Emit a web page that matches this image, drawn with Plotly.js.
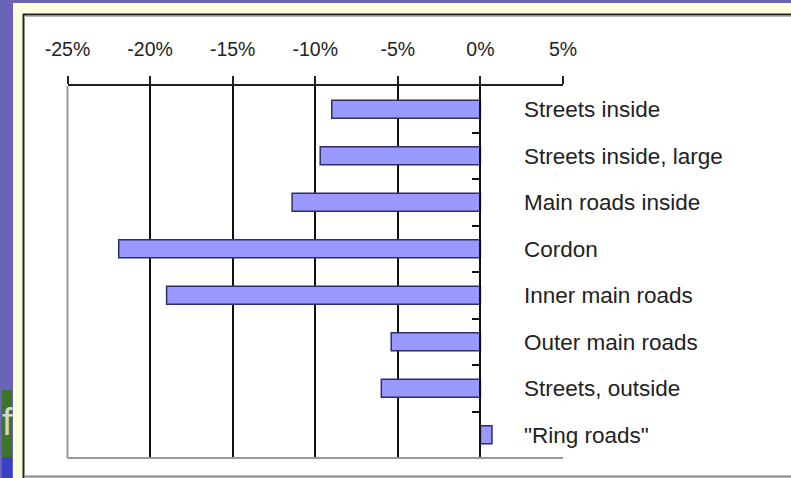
<!DOCTYPE html>
<html>
<head>
<meta charset="utf-8">
<script src="https://cdn.plot.ly/plotly-3.0.1.min.js"></script>
<style>html,body{margin:0;padding:0;background:#fff;}#chart{width:791px;height:478px;}</style>
</head>
<body>
<div id="chart"></div>
<script>
// ---- data ----
var categories = ["Streets inside", "Streets inside, large", "Main roads inside", "Cordon",
                  "Inner main roads", "Outer main roads", "Streets, outside", "\"Ring roads\""];
var changePct = [-9.0, -9.7, -11.4, -21.9, -19.0, -5.4, -6.0, 0.7];
var tickValues = [-25, -20, -15, -10, -5, 0, 5];
var tickLabels = ["-25%", "-20%", "-15%", "-10%", "-5%", "0%", "5%"];

// ---- page geometry helpers (pixels -> paper fractions) ----
var W = 791, H = 478;
function px(x){ return x / W; }
function py(y){ return 1 - y / H; }

var plotLeft = 67.5, plotRight = 563, plotTop = 86, plotBottom = 458;
var xr = [-25, 5];
var zeroPos = px(plotLeft) + (0 - xr[0]) / (xr[1] - xr[0]) * (px(plotRight) - px(plotLeft));

function rect(x0, y0, x1, y1, color){
  return {type:'rect', xref:'paper', yref:'paper', x0:px(x0), x1:px(x1), y0:py(y1), y1:py(y0),
          fillcolor:color, line:{width:0}, layer:'below'};
}
function pline(x0, y0, x1, y1, color, w){
  return {type:'line', xref:'paper', yref:'paper', x0:px(x0), x1:px(x1), y0:py(y0), y1:py(y1),
          line:{color:color, width:w}, layer:'below'};
}

var shapes = [
  rect(0, 0, 13, 478, '#6b63b6'),
  rect(2, 390, 12, 457, '#3c7428'),
  rect(2, 457, 12, 478, '#3a3fc4'),
  rect(0, 0, 791, 3, '#6b63b6'),
  rect(13, 3, 791, 14, '#fffde0'),
  rect(13, 3, 23, 478, '#fffde0'),
  pline(23, 14.5, 791, 14.5, '#222', 2),
  pline(23.5, 14, 23.5, 478, '#222', 2),
  pline(24, 16.5, 791, 16.5, '#bbb', 1),
  pline(24, 476.5, 791, 476.5, '#888', 2),
  // plot-area borders (left and bottom, grey)
  {type:'line', xref:'x domain', yref:'y domain', x0:0, x1:0, y0:0, y1:1,
   line:{color:'#999', width:2}, layer:'above'},
  {type:'line', xref:'x domain', yref:'y domain', x0:0, x1:1, y0:0, y1:0,
   line:{color:'#999', width:2}, layer:'above'}
];

var trace = {
  type:'bar', orientation:'h',
  x: changePct, y: categories,
  marker:{color:'#9999ff', line:{color:'#2e2e66', width:1.5}},
  hoverinfo:'skip'
};

var layout = {
  width: W, height: H,
  margin:{l:0, r:0, t:0, b:0},
  paper_bgcolor:'#ffffff', plot_bgcolor:'rgba(0,0,0,0)',
  showlegend:false,
  bargap:0.61,
  font:{family:'Liberation Sans, Arial, sans-serif', color:'#222'},
  xaxis:{
    domain:[px(plotLeft), px(plotRight)],
    range: xr, side:'top',
    tickmode:'array', tickvals: tickValues, ticktext: tickLabels,
    ticks:'outside', ticklen:8, tickwidth:2, tickcolor:'#222',
    showline:true, linecolor:'#222', linewidth:2,
    showgrid:true, gridcolor:'#111', gridwidth:2,
    zeroline:false,
    ticklabelstandoff:12,
    tickfont:{size:19.5, color:'#222'}
  },
  yaxis:{
    domain:[py(plotBottom), py(plotTop)],
    type:'category', range:[categories.length - 0.5, -0.5],
    anchor:'free', position: zeroPos, side:'right',
    showline:true, linecolor:'#111', linewidth:2,
    ticks:'inside', tickson:'boundaries', ticklen:7, tickwidth:2, tickcolor:'#111',
    showgrid:false, zeroline:false,
    ticklabelstandoff:38,
    tickfont:{size:22.5, color:'#222'}
  },
  shapes: shapes,
  annotations:[
    {xref:'paper', yref:'paper', x:px(7), y:py(422), xanchor:'center', yanchor:'middle',
     text:'f', showarrow:false,
     font:{size:38, color:'#d4d4d4', family:'Liberation Sans, Arial, sans-serif'}}
  ]
};

Plotly.newPlot('chart', [trace], layout, {displayModeBar:false, staticPlot:true});
</script>
</body>
</html>
